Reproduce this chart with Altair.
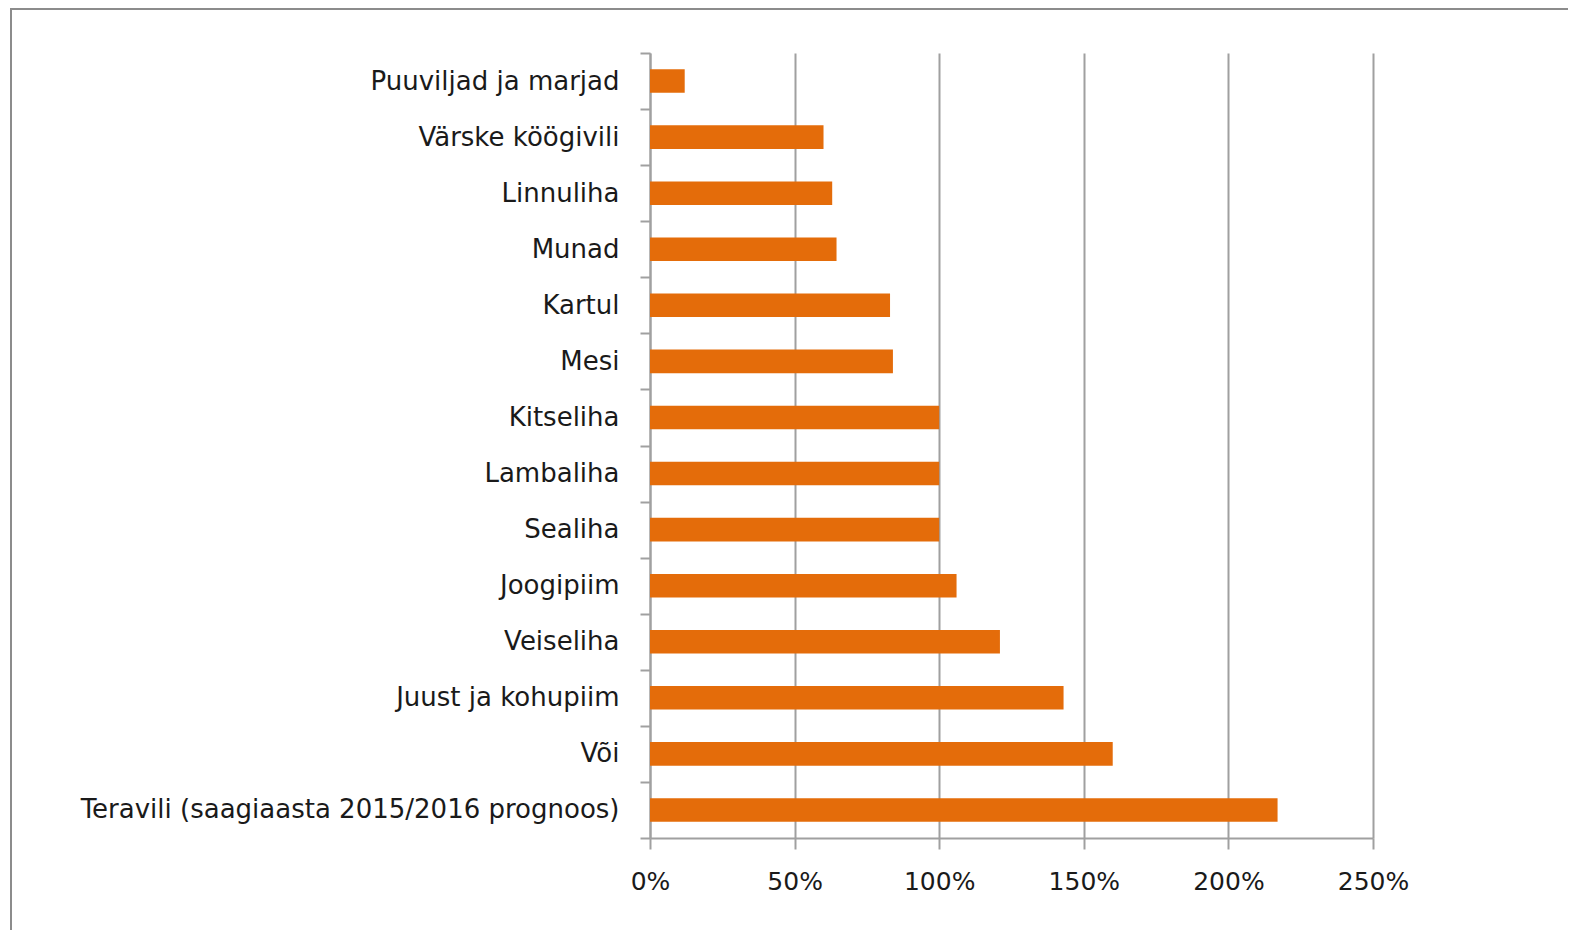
import altair as alt
import pandas as pd

categories = [
    "Puuviljad ja marjad",
    "Värske köögivili",
    "Linnuliha",
    "Munad",
    "Kartul",
    "Mesi",
    "Kitseliha",
    "Lambaliha",
    "Sealiha",
    "Joogipiim",
    "Veiseliha",
    "Juust ja kohupiim",
    "Või",
    "Teravili (saagiaasta 2015/2016 prognoos)",
]
values = [12, 60, 63, 64.5, 83, 84, 100, 100, 100, 106, 121, 143, 160, 217]
x_ticks = [0, 50, 100, 150, 200, 250]

df = pd.DataFrame({"kategooria": categories, "protsent": values})

W, H = 723, 785
GRAY = "#a0a0a0"
FONT = "DejaVu Sans"

bars = alt.Chart(df).mark_bar(color="#E46C0A", height={"band": 0.42}).encode(
    y=alt.Y(
        "kategooria:N",
        sort=categories,
        scale=alt.Scale(paddingInner=0, paddingOuter=0),
        axis=alt.Axis(
            title=None,
            tickBand="extent",
            tickSize=10,
            tickWidth=2,
            tickColor=GRAY,
            domainColor=GRAY,
            domainWidth=2,
            labelPadding=21,
            labelFont=FONT,
            labelFontSize=26,
            labelColor="#1a1a1a",
            labelLimit=700,
            grid=False,
        ),
    ),
    x=alt.X(
        "protsent:Q",
        scale=alt.Scale(domain=[0, 250], nice=False),
        axis=alt.Axis(
            title=None,
            values=x_ticks,
            labelExpr="datum.value + '%'",
            labelFlush=False,
            tickSize=11,
            tickWidth=2,
            tickColor=GRAY,
            domainColor=GRAY,
            domainWidth=2,
            grid=True,
            gridColor=GRAY,
            gridWidth=2,
            labelPadding=20,
            labelFont=FONT,
            labelFontSize=25,
            labelColor="#1a1a1a",
        ),
    ),
)

frame_df = pd.DataFrame({"k": [0]})
frame_top = alt.Chart(frame_df).mark_rule(color="#8c8c8c", strokeWidth=2).encode(
    x=alt.value(-639), x2=alt.value(918), y=alt.value(-44)
)
frame_left = alt.Chart(frame_df).mark_rule(color="#8c8c8c", strokeWidth=2).encode(
    x=alt.value(-639), y=alt.value(-45), y2=alt.value(900)
)

chart = (
    alt.layer(frame_top, frame_left, bars)
    .properties(
        width=W,
        height=H,
        autosize=alt.AutoSizeParams(type="none"),
        padding={"left": 642, "top": 45, "right": 195, "bottom": 92},
    )
    .configure_view(stroke=None)
)

chart.save("out.html", embed_options={"renderer": "svg", "actions": False})
